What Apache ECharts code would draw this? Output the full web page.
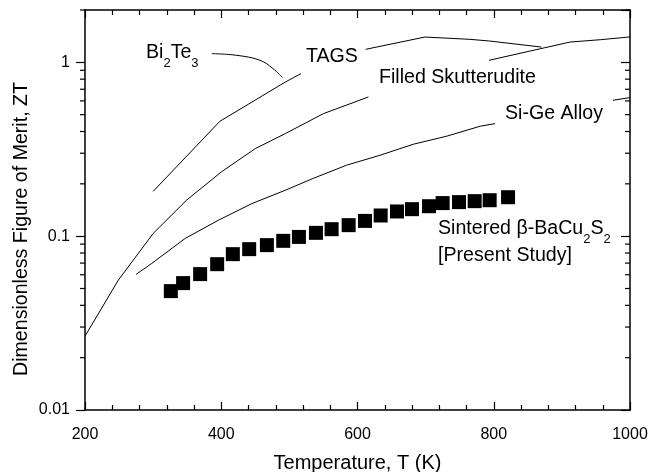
<!DOCTYPE html>
<html>
<head>
<meta charset="utf-8">
<script src="https://cdn.jsdelivr.net/npm/echarts@6/dist/echarts.min.js"></script>
<style>
  html, body { margin: 0; padding: 0; background: #fff; }
  #chart { width: 648px; height: 472px; }
</style>
</head>
<body>
<div id="chart"></div>
<script>
// values (null = hidden behind a label)
const bi2te3T = [386, 423, 457, 476, 490];
const bi2te3ZT = [1.122, 1.097, 1.027, 0.92, 0.817];

const tagsT = [300, 398, 494, 517, 565, 612, 699, 765, 794, 870];
const tagsZT = [0.181, 0.458, 0.77, 0.861, null, 1.188, 1.398, 1.356, 1.326, 1.224];

const skutT = [200, 249, 300, 349, 400, 450, 494, 550, 616, 700, 793, 869, 912, 957, 1000];
const skutZT = [0.0266, 0.0559, 0.1036, 0.161, 0.234, 0.319, 0.389, 0.507, 0.632, null, 1.027, 1.199, 1.308, 1.35, 1.4];

const sigeT = [275, 298, 347, 396, 445, 494, 535, 584, 633, 682, 731, 780, 802, 890, 975, 1000];
const sigeZT = [0.0603, 0.0697, 0.097, 0.1236, 0.154, 0.1837, 0.215, 0.256, 0.292, 0.338, 0.376, 0.429, 0.444, null, 0.605, 0.627];

const bacuT = [326, 344, 369, 394, 417, 441, 467, 491, 514, 539, 562, 587, 611, 634, 658, 680, 705, 725, 749, 772, 794, 821];
const bacuZT = [0.0483, 0.0537, 0.0605, 0.069, 0.0788, 0.0842, 0.0888, 0.094, 0.099, 0.1045, 0.1097, 0.1157, 0.1224, 0.1315, 0.1387, 0.143, 0.1487, 0.155, 0.157, 0.159, 0.161, 0.1675];

const xMin = 200, xMax = 1000, xStep = 200;
const yMin = 0.01, yMax = 2;
const yMajorLabels = [0.01, 0.1, 1];
const yMinorTicks = [0.02, 0.03, 0.04, 0.05, 0.06, 0.07, 0.08, 0.09,
  0.2, 0.3, 0.4, 0.5, 0.6, 0.7, 0.8, 0.9, 2];

const FONT = 'Liberation Sans, Arial, sans-serif';
const TXT = 19.6;

function pairs(xs, ys) {
  return xs.map((x, i) => [x, ys[i] == null ? '-' : ys[i]]);
}

const chart = echarts.init(document.getElementById('chart'), null, { renderer: 'canvas' });

const axisLine = { show: true, lineStyle: { color: '#000', width: 1.5 } };

function lineSeries(name, xs, ys, smooth) {
  return {
    name: name,
    type: 'line',
    data: pairs(xs, ys),
    showSymbol: false,
    symbol: 'none',
    smooth: smooth || false,
    connectNulls: false,
    lineStyle: { color: '#000', width: 1 },
    itemStyle: { color: '#000' },
    silent: true,
    z: 3
  };
}

// main text + lowered subscripts
const subRich = {
  m: { fontSize: TXT, lineHeight: 22, fontFamily: FONT, fill: '#000', verticalAlign: 'top' },
  s: { fontSize: 13, lineHeight: 14, fontFamily: FONT, fill: '#000', padding: [14, 0, 0, 0], verticalAlign: 'top' }
};

const option = {
  backgroundColor: '#fff',
  animation: false,
  grid: { left: 85, right: 18, top: 10, bottom: 62, containLabel: false, outerBoundsMode: 'none' },
  xAxis: [
    {
      type: 'value', min: xMin, max: xMax, interval: xStep,
      name: 'Temperature, T (K)', nameLocation: 'middle', nameGap: 43,
      nameTextStyle: { color: '#000', fontSize: 20, fontFamily: FONT },
      axisLine: axisLine,
      axisTick: { show: true, inside: true, length: 8, lineStyle: { color: '#000', width: 1.2 } },
      minorTick: { show: true, splitNumber: 5, length: 5, lineStyle: { color: '#000', width: 1.2 } },
      axisLabel: { color: '#000', fontSize: 16, fontFamily: FONT, margin: 17, formatter: v => String(v) },
      splitLine: { show: false }
    },
    {
      type: 'value', position: 'top', min: xMin, max: xMax, interval: xStep,
      axisLine: axisLine,
      axisTick: { show: true, inside: true, length: 8, lineStyle: { color: '#000', width: 1.2 } },
      minorTick: { show: true, splitNumber: 5, length: 5, lineStyle: { color: '#000', width: 1.2 } },
      axisLabel: { show: false },
      splitLine: { show: false }
    }
  ],
  yAxis: [
    {
      type: 'log', logBase: 10, min: yMin, max: yMax,
      axisLine: axisLine,
      axisTick: { show: true, inside: false, length: 9, lineStyle: { color: '#000', width: 1.2 } },
      axisLabel: {
        color: '#000', fontSize: 16, fontFamily: FONT, margin: 15,
        showMaxLabel: false,
        formatter: v => {
          const hit = yMajorLabels.find(m => Math.abs(m - v) < m * 1e-6);
          return hit == null ? '' : String(hit);
        }
      },
      splitLine: { show: false }
    },
    {
      type: 'log', logBase: 10, min: yMin, max: yMax, position: 'right',
      axisLine: axisLine,
      axisTick: { show: true, inside: true, length: 9, lineStyle: { color: '#000', width: 1.2 } },
      axisLabel: { show: false },
      splitLine: { show: false }
    }
  ],
  series: [
    lineSeries('Bi2Te3', bi2te3T, bi2te3ZT, 0.4),
    lineSeries('TAGS', tagsT, tagsZT),
    lineSeries('Filled Skutterudite', skutT, skutZT),
    lineSeries('Si-Ge Alloy', sigeT, sigeZT),
    {
      name: 'BaCu2S2',
      type: 'scatter',
      data: pairs(bacuT, bacuZT),
      symbol: 'rect',
      symbolSize: 14,
      itemStyle: { color: '#000', opacity: 1 },
      silent: true,
      z: 4
    },
    {
      // log minor ticks, left (outside) and right (inside)
      type: 'custom',
      data: yMinorTicks.map(v => [xMin, v]),
      encode: { x: 0, y: 1 },
      clip: false,
      silent: true,
      renderItem: (params, api) => {
        const v = api.value(1);
        const pL = api.coord([xMin, v]);
        const pR = api.coord([xMax, v]);
        const st = { stroke: '#000', lineWidth: 1.2 };
        return {
          type: 'group',
          children: [
            { type: 'line', shape: { x1: pL[0] - 5, y1: pL[1], x2: pL[0], y2: pL[1] }, style: st },
            { type: 'line', shape: { x1: pR[0] - 5, y1: pR[1], x2: pR[0], y2: pR[1] }, style: st }
          ]
        };
      }
    }
  ],
  graphic: [
    {
      type: 'text', x: 22, y: 229, rotation: Math.PI / 2,
      style: {
        text: 'Dimensionless Figure of Merit, ZT', font: TXT + 'px ' + FONT, fill: '#000',
        align: 'center', verticalAlign: 'middle'
      }
    },
    {
      type: 'text', x: 146, y: 43,
      style: { text: '{m|Bi}{s|2}{m|Te}{s|3}', verticalAlign: 'top', rich: subRich }
    },
    { type: 'text', x: 306, y: 47, style: { text: 'TAGS', font: TXT + 'px ' + FONT, fill: '#000', verticalAlign: 'top' } },
    { type: 'text', x: 379, y: 68, style: { text: 'Filled Skutterudite', font: TXT + 'px ' + FONT, fill: '#000', verticalAlign: 'top' } },
    { type: 'text', x: 505, y: 104, style: { text: 'Si-Ge Alloy', font: TXT + 'px ' + FONT, fill: '#000', verticalAlign: 'top' } },
    {
      type: 'text', x: 438, y: 219,
      style: { text: '{m|Sintered \u03b2-BaCu}{s|2}{m|S}{s|2}', verticalAlign: 'top', rich: subRich }
    },
    { type: 'text', x: 438, y: 246, style: { text: '[Present Study]', font: TXT + 'px ' + FONT, fill: '#000', verticalAlign: 'top' } }
  ]
};

chart.setOption(option);
window.addEventListener('resize', chart.resize);
</script>
</body>
</html>
